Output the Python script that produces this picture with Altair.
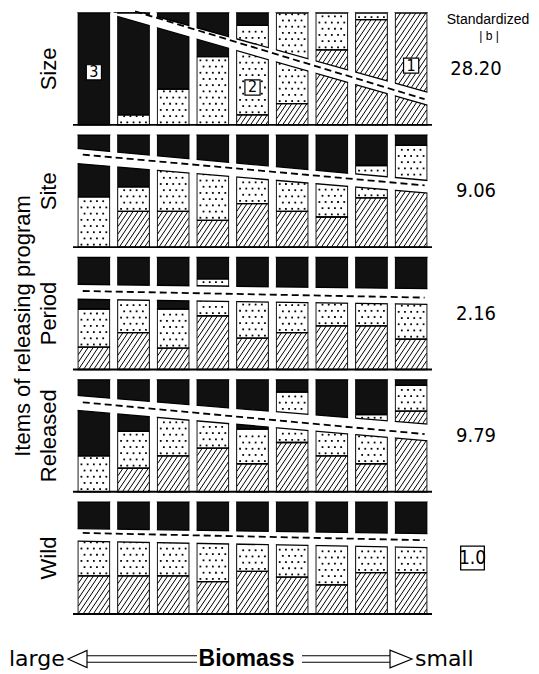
import altair as alt
import pandas as pd

# ---------------- values ----------------
PANELS = ["Size", "Site", "Period", "Released", "Wild"]
BARS = [1, 2, 3, 4, 5, 6, 7, 8, 9]          # biomass classes, large -> small

# share (%) of category 1 (hatched), 2 (dotted) and 3 (black) in every bar
SIZE_1 = [0, 0, 0, 0, 9, 19, 67, 94, 100]
SIZE_2 = [0, 9, 32, 61, 80, 81, 33, 6, 0]
SIZE_3 = [100, 91, 68, 39, 11, 0, 0, 0, 0]

SITE_1 = [0, 32, 32, 24, 39, 32, 27, 44, 57]
SITE_2 = [45, 22, 43, 48, 30, 34, 36, 29, 34]
SITE_3 = [55, 46, 25, 28, 31, 34, 37, 27, 9]

PERIOD_1 = [20, 33, 19, 48, 28, 33, 39, 39, 27]
PERIOD_2 = [34, 36, 35, 33, 39, 34, 27, 26, 38]
PERIOD_3 = [46, 31, 46, 19, 33, 33, 34, 35, 35]

RELEASED_1 = [0, 21, 32, 39, 25, 44, 32, 25, 72]
RELEASED_2 = [32, 33, 40, 30, 31, 45, 27, 44, 23]
RELEASED_3 = [68, 46, 28, 31, 44, 11, 41, 31, 5]

WILD_1 = [34, 34, 34, 29, 38, 33, 26, 37, 37]
WILD_2 = [38, 37, 37, 41, 31, 35, 42, 30, 29]
WILD_3 = [28, 29, 29, 30, 31, 32, 32, 33, 34]

B_VALUES = ["28.20", "9.06", "2.16", "9.79", "1.0"]
B_BOXED = [False, False, False, False, True]

# white band with dashed trend line (x in bar units, y in % of panel)
BAND_X0 = [1.5, 0.6, 0.6, 0.6, 0.6]
BAND_X1 = [9.4, 9.4, 9.4, 9.4, 9.4]
BAND_TOP0 = [107.6, 88.1, 76.1, 85.9, 76.3]
BAND_TOP1 = [29.5, 59.7, 72.2, 60.5, 71.8]
BAND_BOT0 = [97.8, 74.6, 62.7, 72.5, 65.0]
BAND_BOT1 = [17.8, 48.4, 58.2, 45.5, 59.3]
DASH_X0 = [2.04, 0.72, 0.72, 0.72, 0.72]
DASH_X1 = [9.34, 9.34, 9.34, 9.34, 9.34]
DASH_Y0 = [101.5, 82.7, 70.1, 79.9, 72.4]
DASH_Y1 = [23.0, 55.2, 64.2, 51.5, 65.9]

# boxed category numbers inside the Size panel
BOX_TEXT = ["3", "2", "1"]
BOX_BAR = [1, 5, 9]
BOX_Y = [47, 33.5, 53]

SERIES = {
    "Size": (SIZE_1, SIZE_2, SIZE_3),
    "Site": (SITE_1, SITE_2, SITE_3),
    "Period": (PERIOD_1, PERIOD_2, PERIOD_3),
    "Released": (RELEASED_1, RELEASED_2, RELEASED_3),
    "Wild": (WILD_1, WILD_2, WILD_3),
}

# ---------------- layout / style ----------------
W, H = 359, 601
XMIN, XMAX = 0.6, 9.4
GAP = 9.2
YMAX = 4 * (100 + GAP) + 100
PXX = W / (XMAX - XMIN)
PXY = H / YMAX
BAR_PX = 32
HALF = BAR_PX / 2 / PXX
HATCH_SLOPE = 1.45
HATCH_STEP = 5.2
DOT_DX = 6.4
DOT_DY = 6.2
LS = "Liberation Sans, Arial, Helvetica, sans-serif"
NARROW = "Liberation Sans Narrow, Arial Narrow, DejaVu Sans Condensed, sans-serif"
ROUND = "DejaVu Sans, sans-serif"


def base(p):
    return (len(PANELS) - 1 - p) * (100 + GAP)


seg_rows, hatch_rows, dot_rows = [], [], []
for p, name in enumerate(PANELS):
    b = base(p)
    shares = SERIES[name]
    for i, xb in enumerate(BARS):
        lo = 0.0
        for c in range(3):
            v = shares[c][i]
            if v <= 0:
                continue
            hi = lo + v
            seg_rows.append(dict(panel=name, x=xb, y=b + lo, y2=b + hi, cat=str(c + 1)))
            hp = v * PXY
            left = xb - HALF
            if c == 0:  # hatching
                run = hp / HATCH_SLOPE
                c0 = -run
                while c0 < BAR_PX:
                    xa = max(0.0, c0)
                    xe = min(float(BAR_PX), c0 + run)
                    if xe - xa > 0.2:
                        hatch_rows.append(dict(
                            x=left + xa / PXX, y=b + lo + HATCH_SLOPE * (xa - c0) / PXY,
                            x2=left + xe / PXX, y2=b + lo + HATCH_SLOPE * (xe - c0) / PXY))
                    c0 += HATCH_STEP
            elif c == 1:  # dots
                r = 0
                yy = 2.6
                while yy < hp - 1.2:
                    xx = 3.2 + (r % 2) * DOT_DX / 2
                    while xx < BAR_PX - 1.5:
                        dot_rows.append(dict(x=left + xx / PXX, y=b + lo + yy / PXY))
                        xx += DOT_DX
                    yy += DOT_DY
                    r += 1
            lo = hi

band_rows, edge_rows, dash_rows, gap_rows = [], [], [], []
for p, name in enumerate(PANELS):
    b = base(p)
    x0, x1 = BAND_X0[p], BAND_X1[p]
    t0, t1, b0, b1 = BAND_TOP0[p], BAND_TOP1[p], BAND_BOT0[p], BAND_BOT1[p]

    def lerp(x, ya, yb):
        return ya + (yb - ya) * (x - x0) / (x1 - x0)

    xs = [x0 - (0.03 if x0 <= XMIN else 0), x1 + 0.03]
    if t0 > 100 > t1:
        xs.append(x0 + (100 - t0) * (x1 - x0) / (t1 - t0))
    for x in sorted(xs):
        yt = b + min(100, lerp(x, t0, t1))
        yb = b + min(100, lerp(x, b0, b1))
        band_rows.append(dict(panel=name, x=x, yt=yt, yb=yb))
        edge_rows.append(dict(grp=name + "t", x=x, y=yt))
        edge_rows.append(dict(grp=name + "b", x=x, y=yb))
    dash_rows.append(dict(panel=name, x=DASH_X0[p], y=b + DASH_Y0[p]))
    dash_rows.append(dict(panel=name, x=DASH_X1[p], y=b + DASH_Y1[p]))
    # white gaps between the bars (hide band edges there)
    pad = 0.8 / PXX
    gap_rows.append(dict(x=XMIN - 0.1, x2=BARS[0] - HALF - pad, y=b, y2=b + 100))
    for k in range(len(BARS) - 1):
        gap_rows.append(dict(x=BARS[k] + HALF + pad, x2=BARS[k + 1] - HALF - pad, y=b, y2=b + 100))
    gap_rows.append(dict(x=BARS[-1] + HALF + pad, x2=XMAX + 0.1, y=b, y2=b + 100))

lab = pd.DataFrame(dict(panel=PANELS, base=[base(p) for p in range(5)],
                        cy=[base(p) + 50 for p in range(5)], bval=B_VALUES, boxed=B_BOXED))
boxes = pd.DataFrame(dict(t=BOX_TEXT, x=BOX_BAR, y=[base(0) + v for v in BOX_Y]))

XS = alt.Scale(domain=[XMIN, XMAX], nice=False, zero=False)
YS = alt.Scale(domain=[0, YMAX], nice=False, zero=False)


def X(f="x"):
    return alt.X(f"{f}:Q", scale=XS, axis=None)


def Y(f="y"):
    return alt.Y(f"{f}:Q", scale=YS, axis=None)


seg = pd.DataFrame(seg_rows)
fills = alt.Chart(seg).mark_bar(size=BAR_PX, strokeWidth=0).encode(
    x=X(), y=Y(), y2="y2:Q",
    color=alt.Color("cat:N", scale=alt.Scale(domain=["1", "2", "3"],
                                             range=["#ffffff", "#ffffff", "#111111"]), legend=None))
hatch = alt.Chart(pd.DataFrame(hatch_rows)).mark_rule(color="black", strokeWidth=1.0).encode(
    x=X(), y=Y(), x2="x2:Q", y2="y2:Q")
dots = alt.Chart(pd.DataFrame(dot_rows)).mark_square(size=3.2, color="black", opacity=1).encode(
    x=X(), y=Y())
outline = alt.Chart(seg).mark_bar(size=BAR_PX, fillOpacity=0, stroke="black", strokeWidth=1.3).encode(
    x=X(), y=Y(), y2="y2:Q")
band = alt.Chart(pd.DataFrame(band_rows)).mark_area(color="white", opacity=1, interpolate="linear").encode(
    x=X(), y=Y("yt"), y2="yb:Q", detail="panel:N")
edges = alt.Chart(pd.DataFrame(edge_rows)).mark_line(color="black", strokeWidth=1.3).encode(
    x=X(), y=Y(), detail="grp:N")
gaps = alt.Chart(pd.DataFrame(gap_rows)).mark_rect(color="white", opacity=1).encode(
    x=X(), x2="x2:Q", y=Y(), y2="y2:Q")
dash = alt.Chart(pd.DataFrame(dash_rows)).mark_line(color="black", strokeWidth=1.8, strokeDash=[7, 4]).encode(
    x=X(), y=Y(), detail="panel:N")
baseline = alt.Chart(lab).mark_rule(color="black", strokeWidth=1.8).encode(
    y=Y("base"), x=alt.value(0), x2=alt.value(W))
names = alt.Chart(lab).mark_text(angle=270, font=LS, fontSize=22, color="black").encode(
    y=Y("cy"), x=alt.value(-24), text="panel:N")
bvals = alt.Chart(lab[~lab.boxed]).mark_text(font=NARROW, fontSize=20, color="black").encode(
    y=Y("cy"), x=alt.value(403), text="bval:N")
wildbox = alt.Chart(lab[lab.boxed]).mark_point(shape="square", size=560, filled=True, fill="white",
                                                stroke="black", strokeWidth=1.3, opacity=1).encode(
    y=Y("cy"), x=alt.value(399.5))
wildtext = alt.Chart(lab[lab.boxed]).mark_text(font=NARROW, fontSize=19, color="black").encode(
    y=Y("cy"), x=alt.value(399.5), text="bval:N")
sbox = alt.Chart(boxes).mark_point(shape="square", size=230, filled=True, fill="white",
                                   stroke="black", strokeWidth=1.2, opacity=1).encode(x=X(), y=Y())
stext = alt.Chart(boxes).mark_text(font=NARROW, fontSize=16, color="black").encode(
    x=X(), y=Y(), text="t:N")


def note(text, px, py, **kw):
    return alt.Chart(pd.DataFrame({"t": [text]})).mark_text(color="black", **kw).encode(
        text="t:N", x=alt.value(px), y=alt.value(py))


title = note("Items of releasing program", -50, 313, angle=270, font=LS, fontSize=22)
hdr1 = note("Standardized", 415, 7, font=LS, fontSize=14)
hdr2 = note("| b |", 416, 23, font=LS, fontSize=12)
large = note("large", -64, 653, font=ROUND, fontSize=22, align="left", baseline="alphabetic")
biomass = note("Biomass", 173.5, 653, font=LS, fontSize=23, fontWeight="bold", baseline="alphabetic")
small = note("small", 342, 653, font=ROUND, fontSize=22, align="left", baseline="alphabetic")

one = pd.DataFrame({"k": [0]})


def shaft(xa, xb, y):
    return alt.Chart(one).mark_rule(color="black", strokeWidth=1.1).encode(
        x=alt.value(xa), x2=alt.value(xb), y=alt.value(y))


def head(path, px, py, size):
    return alt.Chart(one).mark_point(shape=path, size=size, filled=True, fill="white", stroke="black",
                                     strokeWidth=1.2, opacity=1).encode(x=alt.value(px), y=alt.value(py))


AY = 646
arrows = [
    shaft(12, 124, AY - 3.3), shaft(12, 124, AY + 3.3),
    shaft(229, 319, AY - 3.3), shaft(229, 319, AY + 3.3),
    head("M-1,0L1,-0.9L1,0.9Z", 4.5, AY, 361),
    head("M1,0L-1,-0.8L-1,0.8Z", 328, AY, 484),
]

chart = alt.layer(
    fills, hatch, dots, outline, band, edges, gaps, dash, baseline, names, bvals, wildbox, wildtext,
    sbox, stext, title, hdr1, hdr2, large, biomass, small, *arrows
).properties(
    width=W, height=H,
    autosize=alt.AutoSizeParams(type="none"),
    padding={"left": 65, "top": 5, "right": 99, "bottom": 58},
).configure_view(strokeWidth=0)

chart.save("out.html", embed_options={"renderer": "svg", "actions": False})
